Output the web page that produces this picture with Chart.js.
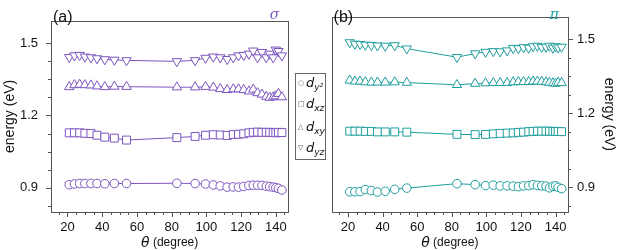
<!DOCTYPE html>
<html>
<head>
<meta charset="utf-8">
<script src="https://cdn.jsdelivr.net/npm/chart.js@4.4.1/dist/chart.umd.min.js"></script>
<style>
  body { margin: 0; background: #fff; width: 619px; height: 250px; position: relative; overflow: hidden; font-family: "Liberation Sans", Arial, sans-serif; }
  #left { position: absolute; left: 0; top: 0; }
  #right { position: absolute; left: 325px; top: 0; }
  #legend { position: absolute; left: 295px; top: 73px; width: 29px; height: 85px; border: 1px solid #666; background: #fff; }
  .row { position: absolute; left: 2px; white-space: nowrap; font-size: 13px; line-height: 14px; color: #111; }
  .sym { font-family: "DejaVu Sans"; font-size: 7px; color: #555; display: inline-block; width: 8px; vertical-align: 2px; }
  .row i { font-family: "DejaVu Sans"; }
  .row sub { font-size: 9px; font-style: italic; font-family: "DejaVu Sans"; vertical-align: -3px; }
</style>
</head>
<body>
<canvas id="left" width="295" height="250"></canvas>
<canvas id="right" width="294" height="250"></canvas>
<div id="legend">
  <div class="row" style="top:2px"><span class="sym">○</span><i>d</i><sub>y²</sub></div>
  <div class="row" style="top:23px"><span class="sym">□</span><i>d</i><sub>xz</sub></div>
  <div class="row" style="top:46px"><span class="sym">△</span><i>d</i><sub>xy</sub></div>
  <div class="row" style="top:67px"><span class="sym">▽</span><i>d</i><sub>yz</sub></div>
</div>
<script>
const angles = [21, 24, 27, 30, 33.5, 37, 41.5, 47, 54, 83, 93.5, 99.5, 104, 108, 112, 115.5, 118.5, 121.5, 124.5, 127, 129.5, 132, 134.5, 136.5, 138.5, 140, 141.5, 143.5];

const sigmaDy2 = [0.913, 0.916, 0.918, 0.918, 0.918, 0.918, 0.917, 0.918, 0.918, 0.919, 0.918, 0.916, 0.912, 0.908, 0.903, 0.904, 0.903, 0.906, 0.910, 0.911, 0.911, 0.910, 0.907, 0.905, 0.903, 0.901, 0.898, 0.891];
const sigmaDxz = [1.128, 1.128, 1.128, 1.126, 1.125, 1.118, 1.110, 1.106, 1.098, 1.108, 1.113, 1.118, 1.120, 1.119, 1.117, 1.121, 1.122, 1.124, 1.128, 1.130, 1.131, 1.130, 1.130, 1.130, 1.129, 1.128, 1.130, 1.129];
const sigmaDxy = [1.318, 1.326, 1.328, 1.326, 1.325, 1.321, 1.318, 1.320, 1.319, 1.317, 1.317, 1.319, 1.316, 1.310, 1.306, 1.309, 1.309, 1.306, 1.300, 1.308, 1.293, 1.287, 1.278, 1.274, 1.276, 1.280, 1.290, 1.276];
const sigmaDyz = [1.441, 1.448, 1.450, 1.443, 1.440, 1.436, 1.432, 1.430, 1.428, 1.424, 1.428, 1.438, 1.443, 1.440, 1.433, 1.440, 1.448, 1.450, 1.455, 1.468, 1.440, 1.462, 1.440, 1.455, 1.440, 1.472, 1.466, 1.448];

const piDy2 = [0.882, 0.882, 0.883, 0.891, 0.887, 0.881, 0.884, 0.892, 0.897, 0.915, 0.911, 0.907, 0.909, 0.906, 0.906, 0.905, 0.903, 0.906, 0.907, 0.911, 0.908, 0.906, 0.905, 0.898, 0.904, 0.906, 0.900, 0.895];
const piDxz = [1.128, 1.128, 1.128, 1.127, 1.127, 1.125, 1.125, 1.125, 1.124, 1.115, 1.114, 1.115, 1.117, 1.119, 1.120, 1.121, 1.123, 1.124, 1.126, 1.127, 1.128, 1.128, 1.128, 1.128, 1.127, 1.127, 1.127, 1.126];
const piDxy = [1.334, 1.330, 1.330, 1.327, 1.326, 1.326, 1.326, 1.327, 1.325, 1.316, 1.321, 1.323, 1.324, 1.324, 1.324, 1.327, 1.328, 1.328, 1.328, 1.330, 1.330, 1.329, 1.327, 1.325, 1.323, 1.321, 1.325, 1.324];
const piDyz = [1.488, 1.482, 1.481, 1.478, 1.477, 1.475, 1.474, 1.476, 1.463, 1.428, 1.443, 1.449, 1.452, 1.451, 1.455, 1.465, 1.464, 1.468, 1.466, 1.472, 1.474, 1.469, 1.470, 1.474, 1.466, 1.472, 1.467, 1.470];

const xTicks = [20, 40, 60, 80, 100, 120, 140];
const yTicks = [0.9, 1.2, 1.5];

const purple = "#7c55c0";
const teal = "#1f9e9e";
const frameColor = "#555";

function series(values, color, style, size, rotation) {
  return {
    data: values.map((v, i) => ({ x: angles[i], y: v })),
    borderColor: color,
    backgroundColor: "#fff",
    borderWidth: 1,
    pointStyle: style,
    pointRadius: size,
    pointRotation: rotation || 0,
    pointBorderWidth: 1,
    pointBackgroundColor: "#fff",
    pointBorderColor: color,
    tension: 0,
  };
}

function decorations(panel, symbol, color, side) {
  return {
    id: "decor" + panel,
    afterDraw(chart) {
      const c = chart.ctx;
      const a = chart.chartArea;
      const xs = chart.scales.x;
      const ys = chart.scales.y;
      c.save();
      c.strokeStyle = frameColor;
      c.lineWidth = 1;
      c.strokeRect(Math.round(a.left) + 0.5, Math.round(a.top) + 0.5, Math.round(a.right - a.left), Math.round(a.bottom - a.top));

      // ticks
      c.beginPath();
      for (let v = 15; v <= 145; v += 5) {
        const px = Math.round(xs.getPixelForValue(v)) + 0.5;
        const len = v % 20 === 0 ? 5 : 3;
        c.moveTo(px, a.bottom);
        c.lineTo(px, a.bottom + len);
      }
      for (let k = 1; k <= 10; k++) {
        const v = 0.75 + k * 0.075;
        if (v < ys.min || v > ys.max) continue;
        const py = Math.round(ys.getPixelForValue(v)) + 0.5;
        const len = k % 4 === 2 ? 5 : 3;
        if (side === "left") { c.moveTo(a.left, py); c.lineTo(a.left - len, py); }
        else { c.moveTo(a.right, py); c.lineTo(a.right + len, py); }
      }
      c.stroke();

      // panel label and symmetry symbol
      c.fillStyle = "#111";
      c.font = '16px "Liberation Sans"';
      c.textBaseline = "alphabetic";
      c.textAlign = "left";
      c.fillText("(" + panel + ")", a.left + 2, 22);
      c.fillStyle = color;
      c.font = 'italic 14px "DejaVu Serif"';
      c.textAlign = "right";
      c.fillText(symbol, a.right - 9, 19);

      // x title
      c.fillStyle = "#111";
      c.font = 'italic 14px "DejaVu Sans"';
      const t1 = "θ";
      const w1 = c.measureText(t1).width;
      c.font = '12px "Liberation Sans"';
      const t2 = " (degree)";
      const w2 = c.measureText(t2).width;
      const x0 = (a.left + a.right) / 2 - (w1 + w2) / 2;
      c.textAlign = "left";
      c.font = 'italic 14px "DejaVu Sans"';
      c.fillText(t1, x0, 247);
      c.font = '12px "Liberation Sans"';
      c.fillText(t2, x0 + w1, 246);

      // y title
      c.font = '14px "Liberation Sans"';
      c.textAlign = "center";
      c.textBaseline = "middle";
      const cy = (a.top + a.bottom) / 2;
      if (side === "left") {
        c.translate(10, cy);
        c.rotate(-Math.PI / 2);
      } else {
        c.translate(chart.width - 10, cy);
        c.rotate(Math.PI / 2);
      }
      c.fillText("energy (eV)", 0, 0);
      c.restore();
    },
  };
}

function makeChart(id, panel, symbol, color, side, d1, d2, d3, d4) {
  new Chart(document.getElementById(id), {
    type: "line",
    data: {
      datasets: [
        series(d1, color, "circle", 4.3),
        series(d2, color, "rect", 5.6),
        series(d3, color, "triangle", 5.4),
        series(d4, color, "triangle", 5.4, 180),
      ],
    },
    options: {
      responsive: false,
      animation: false,
      layout: { padding: side === "left" ? { top: 5, right: 3, left: 0, bottom: 0 } : { top: 5, left: 3, right: 0, bottom: 0 } },
      plugins: { legend: { display: false }, tooltip: { enabled: false } },
      scales: {
        x: {
          type: "linear",
          min: 10.5,
          max: 147.2,
          grid: { display: false, drawTicks: false },
          border: { display: false },
          afterBuildTicks: (s) => { s.ticks = xTicks.map((v) => ({ value: v })); },
          afterFit: (s) => { s.height = 38; },
          ticks: { padding: 8, color: "#111", font: { family: "Liberation Sans", size: 13 }, maxRotation: 0, autoSkip: false },
        },
        y: {
          type: "linear",
          position: side,
          min: 0.8,
          max: 1.592,
          grid: { display: false, drawTicks: false },
          border: { display: false },
          afterBuildTicks: (s) => { s.ticks = yTicks.map((v) => ({ value: v })); },
          afterFit: (s) => { s.width = 51; },
          ticks: { padding: side === "left" ? 13 : 9, color: "#111", font: { family: "Liberation Sans", size: 13 }, callback: (v) => v.toFixed(1) },
        },
      },
    },
    plugins: [decorations(panel, symbol, color, side)],
  });
}

makeChart("left", "a", "σ", purple, "left", sigmaDy2, sigmaDxz, sigmaDxy, sigmaDyz);
makeChart("right", "b", "π", teal, "right", piDy2, piDxz, piDxy, piDyz);
</script>
</body>
</html>
